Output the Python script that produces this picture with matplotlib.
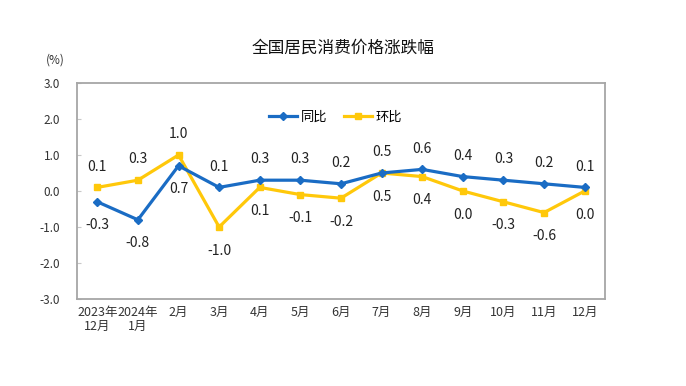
import numpy as np
import matplotlib.pyplot as plt

plt.rcParams['font.family'] = ['Noto Sans CJK SC', 'DejaVu Sans']

months = ['2023年\n12月', '2024年\n1月', '2月', '3月', '4月', '5月', '6月',
          '7月', '8月', '9月', '10月', '11月', '12月']
yoy = [-0.3, -0.8, 0.7, 0.1, 0.3, 0.3, 0.2, 0.5, 0.6, 0.4, 0.3, 0.2, 0.1]
mom = [0.1, 0.3, 1.0, -1.0, 0.1, -0.1, -0.2, 0.5, 0.4, 0.0, -0.3, -0.6, 0.0]
# label position for 同比: True = above the point
yoy_above = [False, False, False, True, True, True, True, True, True, True, True, True, True]

blue = '#1a6cc4'
yellow = '#ffc80a'

fig = plt.figure(figsize=(6.86, 3.86), dpi=100)
ax = fig.add_axes([0.1122, 0.2254, 0.7697, 0.5596])
x = np.arange(len(months))

ax.plot(x, yoy, color=blue, lw=2.3, marker='D', ms=4, label='同比', zorder=3)
ax.plot(x, mom, color=yellow, lw=2.3, marker='s', ms=5, label='环比', zorder=2)

for i in x:
    up = yoy_above[i]
    ax.annotate(f'{yoy[i]:.1f}', (i, yoy[i]), xytext=(0, 10 if up else -12),
                textcoords='offset points', ha='center',
                va='bottom' if up else 'top', fontsize=10, color='#222222')
    ax.annotate(f'{mom[i]:.1f}', (i, mom[i]), xytext=(0, -12 if up else 10),
                textcoords='offset points', ha='center',
                va='top' if up else 'bottom', fontsize=10, color='#222222')

ax.set_xlim(-0.5, len(months) - 0.5)
ax.set_ylim(-3, 3)
ax.set_yticks(np.arange(-3, 3.1, 1))
ax.set_yticklabels([f'{v:.1f}' for v in np.arange(-3, 3.1, 1)])
ax.set_xticks(x)
ax.set_xticklabels(months, linespacing=1.1)
ax.tick_params(axis='y', direction='in', length=3, color='#c8c8c8',
               labelsize=8.5, labelcolor='#333333', pad=12)
ax.tick_params(axis='x', length=0, labelsize=9, labelcolor='#333333', pad=5)
for s in ax.spines.values():
    s.set_color('#a6a6a6')
    s.set_linewidth(1.3)

ax.legend(loc='upper center', bbox_to_anchor=(0.49, 0.925), ncol=2,
          frameon=False, fontsize=9.5, handlelength=2.1, columnspacing=1.3,
          handletextpad=0.3)

fig.text(0.5, 0.875, '全国居民消费价格涨跌幅', ha='center', va='center',
         fontsize=12, color='#111111')
fig.text(0.08, 0.845, '(%)', ha='center', va='center', fontsize=8.5,
         color='#333333')

fig.savefig('out.png', dpi=100)
